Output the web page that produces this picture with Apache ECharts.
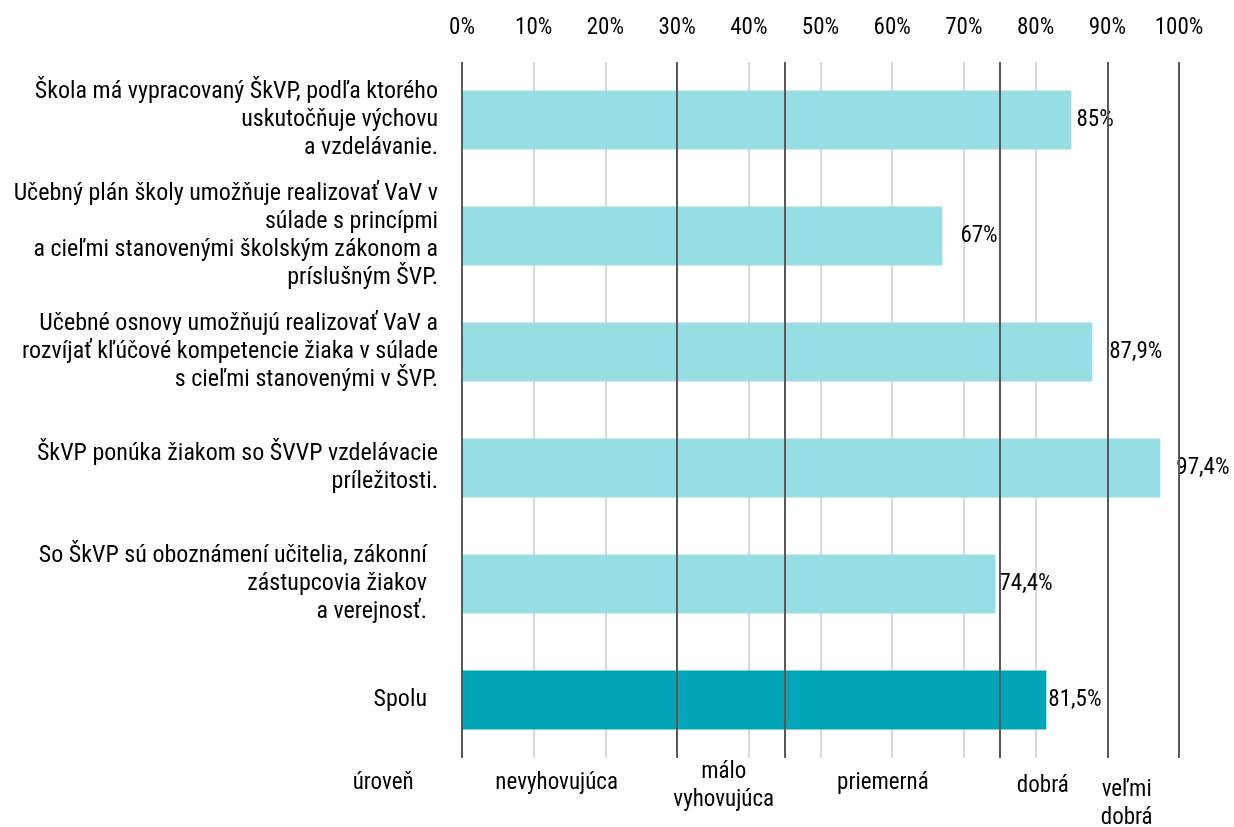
<!DOCTYPE html>
<html>
<head>
<meta charset="utf-8">
<script src="https://cdn.jsdelivr.net/npm/echarts@6/dist/echarts.min.js"></script>
<style>
html,body{margin:0;padding:0;background:#fff;}
#c{width:1234px;height:827px;}
</style>
</head>
<body>
<div id="c"></div>
<script>
// ---- data ----
var categories = [
  "Škola má vypracovaný ŠkVP, podľa ktorého\nuskutočňuje výchovu\na vzdelávanie.",
  "Učebný plán školy umožňuje realizovať VaV v\nsúlade s princípmi\na cieľmi stanovenými školským zákonom a\npríslušným ŠVP.",
  "Učebné osnovy umožňujú realizovať VaV a\nrozvíjať kľúčové kompetencie žiaka v súlade\ns cieľmi stanovenými v ŠVP.",
  "ŠkVP ponúka žiakom so ŠVVP vzdelávacie\npríležitosti.",
  "So ŠkVP sú oboznámení učitelia, zákonní  \nzástupcovia žiakov  \na verejnosť.  ",
  "Spolu  "
];
var values = [85, 67, 87.9, 97.4, 74.4, 81.5];
var xTicks = [0, 10, 20, 30, 40, 50, 60, 70, 80, 90, 100];
var levelBounds = [0, 30, 45, 75, 90, 100];
var levelTitle = "úroveň";
var levelNames = ["nevyhovujúca", "málo\nvyhovujúca", "priemerná", "dobrá", "veľmi\ndobrá"];

// ---- layout / style ----
var FONT = "'Roboto Condensed', 'Liberation Sans Narrow', Roboto, sans-serif";
var levelLabelAt = [13.2, 36.5, 58.7, 81, 92.7];   // x value of label centres
var levelLabelY = [783, 786, 783, 786, 804];
var levelTitleAt = -11;
var labelGap = [5, 18, 17, 16, 4, 2];
var lightColor = '#97DEE4', totalColor = '#00A5B8';

var chart = echarts.init(document.getElementById('c'));
var option = {
  animation: false,
  grid: {left: 462, right: 55, top: 62, bottom: 69, containLabel: false},
  xAxis: {
    type: 'value', position: 'top', min: 0, max: 100, interval: 10,
    axisLine: {show: false}, axisTick: {show: false},
    axisLabel: {formatter: function (v) { return v + '%'; }, color: '#000', fontSize: 23, fontFamily: FONT, margin: 22},
    splitLine: {lineStyle: {color: '#d9d9d9', width: 2}}
  },
  yAxis: {
    type: 'category', inverse: true, data: categories,
    axisLine: {show: false}, axisTick: {show: false},
    axisLabel: {color: '#000', fontSize: 24, fontFamily: FONT, lineHeight: 28, margin: 24, align: 'right'}
  },
  series: [{
    type: 'bar', barWidth: 59,
    data: values.map(function (v, i) {
      return {
        value: v,
        itemStyle: {color: i === values.length - 1 ? totalColor : lightColor},
        label: {distance: labelGap[i]}
      };
    }),
    label: {
      show: true, position: 'right', color: '#000', fontSize: 23, fontFamily: FONT,
      formatter: function (p) { return String(p.value).replace('.', ',') + '%'; }
    },
    markLine: {
      silent: true, symbol: 'none', label: {show: false},
      lineStyle: {color: '#595959', width: 2, type: 'solid'},
      data: levelBounds.map(function (b) { return {xAxis: b}; })
    }
  }]
};
chart.setOption(option);

var g = [];
function addLabel(val, y, text) {
  var x = chart.convertToPixel({xAxisIndex: 0}, val);
  g.push({type: 'text', x: x, y: y, style: {text: text, fill: '#000', font: '23px ' + FONT, textAlign: 'center', textVerticalAlign: 'middle', lineHeight: 28}});
}
addLabel(levelTitleAt, 783, levelTitle);
levelNames.forEach(function (n, i) { addLabel(levelLabelAt[i], levelLabelY[i], n); });
chart.setOption({graphic: g});
</script>
</body>
</html>
